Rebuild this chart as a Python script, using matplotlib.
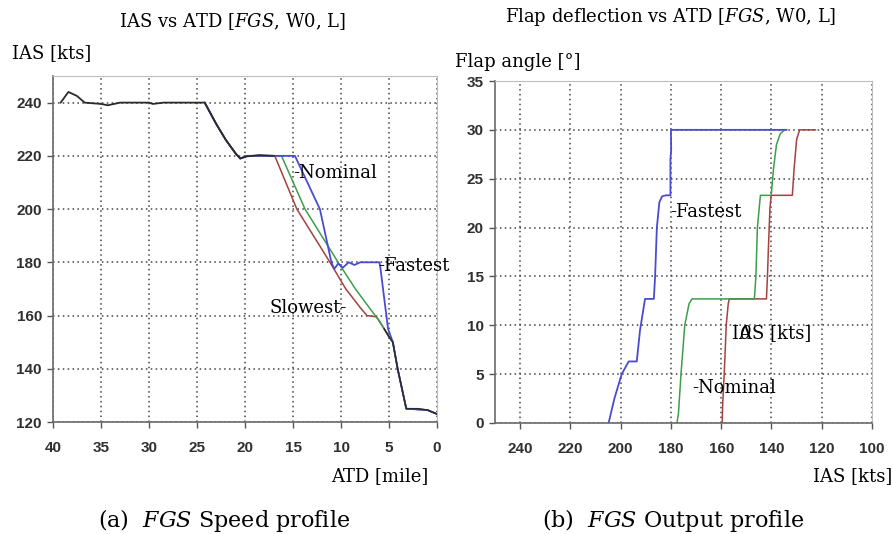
import matplotlib
matplotlib.use("Agg")
import matplotlib.pyplot as plt

plt.rcParams["mathtext.fontset"] = "dejavuserif"

# (a) IAS vs ATD
black_atd = [39.2, 38.4, 37.5, 36.7, 35.0, 34.3, 33.0, 30.0, 29.6, 28.5, 24.2, 23.0, 22.0, 21.0, 20.5, 19.8, 18.5, 17.0]
black_ias = [240, 244, 242.5, 240, 239.5, 239, 240, 240, 239.5, 240, 240, 232, 226, 221, 219, 219.8, 220.3, 220]
black_end_atd = [5.5, 5.0, 4.6, 4.1, 3.5, 3.2, 2.0, 1.0, 0.0]
black_end_ias = [155, 152, 150, 140, 130, 125, 125, 124.5, 123]

fast_atd = [24.2, 23.0, 22.0, 21.0, 20.5, 19.8, 14.8, 13.5, 12.2, 11.0, 10.7, 10.3, 9.8, 9.2, 8.6, 8.0, 6.0, 5.9, 5.1, 4.6, 4.1, 3.5, 3.2, 1.0, 0.0]
fast_ias = [240, 232, 226, 221, 219, 220, 220, 210, 200, 180, 177.5, 179.5, 178, 180, 179, 180, 180, 178, 155, 150, 140, 130, 125, 124.5, 123]

nom_atd = [24.2, 23.0, 22.0, 21.0, 20.5, 19.8, 16.2, 13.75, 10.3, 8.5, 6.65, 6.0, 5.0, 4.6, 4.1, 3.5, 3.2, 1.0, 0.0]
nom_ias = [240, 232, 226, 221, 219, 220, 220, 200, 180, 170, 161, 158, 152, 150, 140, 130, 125, 124.5, 123]

slow_atd = [24.2, 23.0, 22.0, 21.0, 20.5, 19.8, 16.9, 14.6, 11.15, 9.5, 8.0, 7.3, 6.3, 5.5, 5.0, 4.6, 4.1, 3.5, 3.2, 1.0, 0.0]
slow_ias = [240, 232, 226, 221, 219, 220, 220, 200, 180, 170, 163, 160, 159.5, 155, 152, 150, 140, 130, 125, 124.5, 123]

# (b) flap angle vs IAS
fast_flap_ias = [204.8, 202.5, 199.6, 196.8, 193.6, 192.3, 190.3, 186.8, 186.3, 185.6, 184.6, 183.5, 182.0, 180.2, 180.2, 179.9, 180.0, 134.0]
fast_flap = [0, 2.5, 5, 6.3, 6.3, 9.5, 12.7, 12.7, 15, 20, 22.6, 23.2, 23.3, 23.3, 27, 28, 30, 30]

nom_flap_ias = [177.6, 177.0, 176.0, 174.5, 172.8, 171.6, 146.8, 146.2, 145.6, 144.4, 143.6, 140.1, 139.2, 138.0, 136.5, 134.8]
nom_flap = [0, 1, 5, 10, 12.2, 12.7, 12.7, 15, 20, 23.3, 23.3, 23.3, 26, 28.5, 29.6, 30]

slow_flap_ias = [159.6, 159.4, 158.8, 158.0, 157.2, 156.8, 142.0, 141.6, 141.2, 140.6, 140.1, 131.7, 131.0, 130.0, 128.8, 122.5]
slow_flap = [0, 2, 5, 10, 12.2, 12.7, 12.7, 15, 18, 22, 23.3, 23.3, 26, 29, 30, 30]

atd_ticks = [40, 35, 30, 25, 20, 15, 10, 5, 0]
ias_ticks = [120, 140, 160, 180, 200, 220, 240]
flap_ticks = [0, 5, 10, 15, 20, 25, 30, 35]
flap_ias_ticks = [240, 220, 200, 180, 160, 140, 120, 100]

BLUE = "#4b4bd2"
GREEN = "#3c9e4c"
RED = "#a3423f"
BLACK = "#2b2b2b"
SERIF = "DejaVu Serif"

W, H = 893, 534
fig = plt.figure(figsize=(W / 100, H / 100), dpi=100)


def px(x, y):
    return x / W, 1 - y / H


def style_axes(ax):
    ax.grid(True, color="#444444", linestyle=(0, (1, 2.2)), linewidth=1.1)
    for s in ["top", "right"]:
        ax.spines[s].set_color("#bdbdbd")
    for s in ["left", "bottom"]:
        ax.spines[s].set_color("#6a6a6a")
        ax.spines[s].set_linewidth(1.2)
    ax.tick_params(direction="out", length=4, width=1, color="#555555",
                   labelsize=11, labelcolor="#303030")
    ax.tick_params(axis="x", pad=10)
    ax.tick_params(axis="y", pad=4)
    for lab in ax.get_xticklabels() + ax.get_yticklabels():
        lab.set_family("Liberation Sans")
        lab.set_fontweight("bold")


# left panel
ax1 = fig.add_axes([53 / W, 1 - 422 / H, (437 - 53) / W, (422 - 76) / H])
ax1.plot(slow_atd, slow_ias, color=RED, lw=1.1)
ax1.plot(nom_atd, nom_ias, color=GREEN, lw=1.1)
ax1.plot(fast_atd, fast_ias, color=BLUE, lw=1.3)
ax1.plot(black_atd, black_ias, color=BLACK, lw=1.3)
ax1.plot(black_end_atd, black_end_ias, color=BLACK, lw=1.1)
ax1.set_xlim(40, 0)
ax1.set_ylim(120, 250)
ax1.set_xticks(atd_ticks)
ax1.set_yticks(ias_ticks)
style_axes(ax1)

# right panel
ax2 = fig.add_axes([495 / W, 1 - 423 / H, (872 - 495) / W, (423 - 81) / H])
ax2.plot(slow_flap_ias, slow_flap, color=RED, lw=1.1)
ax2.plot(nom_flap_ias, nom_flap, color=GREEN, lw=1.1)
ax2.plot(fast_flap_ias, fast_flap, color=BLUE, lw=1.3)
ax2.set_xlim(250, 100)
ax2.set_ylim(0, 35)
ax2.set_xticks(flap_ias_ticks)
ax2.set_yticks(flap_ticks)
style_axes(ax2)

# texts
fs = 13
fig.text(*px(232, 22), "IAS vs ATD [$\\mathit{FGS}$, W0, L]", family=SERIF, fontsize=fs,
         ha="center", va="center")
fig.text(*px(671, 17), "Flap deflection vs ATD [$\\mathit{FGS}$, W0, L]", family=SERIF, fontsize=fs,
         ha="center", va="center")
fig.text(*px(12, 53), "IAS [kts]", family=SERIF, fontsize=fs, ha="left", va="center")
fig.text(*px(455, 62), "Flap angle [°]", family=SERIF, fontsize=fs, ha="left", va="center")
fig.text(*px(428, 476), "ATD [mile]", family=SERIF, fontsize=fs, ha="right", va="center")
fig.text(*px(892, 476), "IAS [kts]", family=SERIF, fontsize=fs, ha="right", va="center")
fig.text(*px(224, 520), "(a)  $\\mathit{FGS}$ Speed profile", family=SERIF, fontsize=16,
         ha="center", va="center")
fig.text(*px(673, 520), "(b)  $\\mathit{FGS}$ Output profile", family=SERIF, fontsize=16,
         ha="center", va="center")

# annotations on the curves
fig.text(*px(293, 173), "-Nominal", family=SERIF, fontsize=fs, ha="left", va="center")
fig.text(*px(378, 266), "-Fastest", family=SERIF, fontsize=fs, ha="left", va="center")
fig.text(*px(347, 308), "Slowest-", family=SERIF, fontsize=fs, ha="right", va="center")
fig.text(*px(670, 212), "-Fastest", family=SERIF, fontsize=fs, ha="left", va="center")
fig.text(*px(732, 333), "IAS [kts]", family=SERIF, fontsize=fs, ha="left", va="center")
fig.text(*px(745, 334), "0", family=SERIF, fontsize=fs, style="italic", ha="center", va="center")
fig.text(*px(692, 388), "-Nominal", family=SERIF, fontsize=fs, ha="left", va="center")

fig.savefig("out.png", dpi=100)
